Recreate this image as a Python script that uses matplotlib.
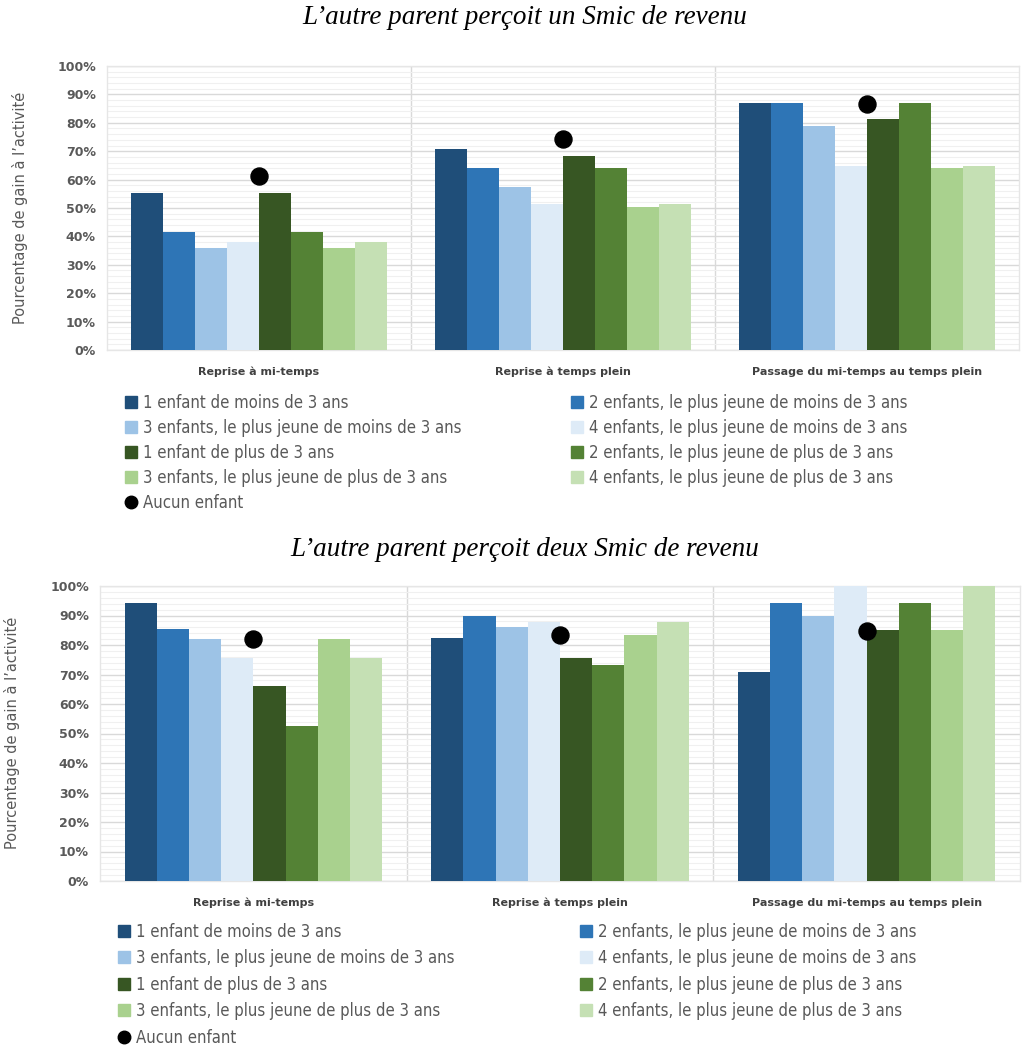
import matplotlib
matplotlib.use("Agg")
import matplotlib.pyplot as plt
from matplotlib import font_manager
from matplotlib.lines import Line2D
from matplotlib.ticker import MultipleLocator, FuncFormatter
import numpy as np

categories = ["Reprise à mi-temps", "Reprise à temps plein", "Passage du mi-temps au temps plein"]
series_labels = [
    "1 enfant de moins de 3 ans",
    "2 enfants, le plus jeune de moins de 3 ans",
    "3 enfants, le plus jeune de moins de 3 ans",
    "4 enfants, le plus jeune de moins de 3 ans",
    "1 enfant de plus de 3 ans",
    "2 enfants, le plus jeune de plus de 3 ans",
    "3 enfants, le plus jeune de plus de 3 ans",
    "4 enfants, le plus jeune de plus de 3 ans",
]
dot_label = "Aucun enfant"
colors = ["#1F4E79", "#2E75B6", "#9DC3E6", "#DEEBF7",
          "#375623", "#548235", "#A9D18E", "#C5E0B4"]

# values in %, one list per series (3 categories each)
un_smic = [
    [55.2, 70.9, 87.1],
    [41.7, 64.1, 87.1],
    [36.0, 57.3, 78.9],
    [37.9, 51.4, 64.7],
    [55.2, 68.4, 81.5],
    [41.7, 64.1, 87.1],
    [36.0, 50.4, 64.2],
    [37.9, 51.3, 64.7],
]
un_smic_aucun = [61.4, 74.2, 86.6]

deux_smic = [
    [94.3, 82.5, 71.0],
    [85.4, 89.7, 94.2],
    [82.1, 86.0, 89.7],
    [75.5, 87.9, 100.0],
    [66.2, 75.5, 85.0],
    [52.6, 73.3, 94.2],
    [82.1, 83.3, 85.0],
    [75.5, 87.9, 100.0],
]
deux_smic_aucun = [82.0, 83.4, 84.7]

titles = ["L\u2019autre parent perçoit un Smic de revenu",
          "L\u2019autre parent perçoit deux Smic de revenu"]
ylabel = "Pourcentage de gain à l\u2019activité"

# a condensed font for the legend, if one is installed
narrow_font = None
for f in font_manager.fontManager.ttflist:
    if ("Narrow" in f.name or "Condensed" in f.name or f.stretch in ("condensed", "semi-condensed")) \
            and f.style == "normal" and f.weight in (400, "normal"):
        narrow_font = font_manager.FontProperties(fname=f.fname)
        break
grey = "#595959"

fig = plt.figure(figsize=(10.22, 10.48), dpi=100)
W, H = 1022, 1048


def box(l, t, r, b):
    return [l / W, 1 - b / H, (r - l) / W, (b - t) / H]


def draw(ax, data, aucun, leg_top, leg_left, leg_right, leg_space, ylab_x, ylab_y):
    x = np.arange(len(categories))
    n = len(data)
    bw = 0.84 / n
    for i, vals in enumerate(data):
        ax.bar(x + (i - (n - 1) / 2) * bw, vals, width=bw, color=colors[i],
               zorder=3, linewidth=0)
    ax.scatter(x, aucun, s=150, color="black", zorder=5)
    ax.set_xlim(-0.5, len(categories) - 0.5)
    ax.set_ylim(0, 100)
    ax.yaxis.set_major_locator(MultipleLocator(10))
    ax.yaxis.set_minor_locator(MultipleLocator(2))
    ax.yaxis.set_major_formatter(FuncFormatter(lambda v, p: f"{v:.0f}%"))
    ax.grid(axis="y", which="major", color="#d9d9d9", linewidth=1, zorder=0)
    ax.grid(axis="y", which="minor", color="#f0f0f0", linewidth=0.8, zorder=0)
    for b in np.arange(0.5, len(categories) - 0.5, 1):
        ax.axvline(b, color="#d9d9d9", linewidth=1, zorder=1)
    ax.set_xticks(x)
    ax.set_xticklabels(categories, fontsize=8, fontweight="bold", color="#404040")
    ax.tick_params(axis="x", length=0, pad=12)
    ax.tick_params(axis="y", which="both", length=0, labelsize=9, labelcolor=grey, pad=8)
    for lab in ax.get_yticklabels():
        lab.set_fontweight("bold")
    for s in ax.spines.values():
        s.set_color("#e6e6e6")
        s.set_linewidth(1)
    ax.set_ylabel(ylabel, fontsize=10.5, color=grey)
    ax.yaxis.set_label_coords(ylab_x / W, 1 - ylab_y / H, transform=fig.transFigure)

    handles = [Line2D([], [], marker="s", linestyle="none", markersize=8,
                      markerfacecolor=c, markeredgecolor=c) for c in colors]
    dot = Line2D([], [], marker="o", linestyle="none", markersize=9,
                 markerfacecolor="black", markeredgecolor="black")
    order = [0, 2, 4, 6]
    h = [handles[i] for i in order] + [dot] + [handles[i] for i in [1, 3, 5, 7]]
    l = [series_labels[i] for i in order] + [dot_label] + [series_labels[i] for i in [1, 3, 5, 7]]
    if narrow_font is not None:
        prop = narrow_font.copy()
        prop.set_size(12)
    else:
        prop = {"family": "Liberation Sans", "size": 11}
    fig.legend(h, l, ncol=2, mode="expand", frameon=False,
               bbox_to_anchor=(leg_left / W, 1 - leg_top / H, (leg_right - leg_left) / W, 0.001),
               loc="upper left", prop=prop,
               labelcolor=grey, handletextpad=0.3, handlelength=0.8,
               labelspacing=leg_space, borderaxespad=0)


ax1 = fig.add_axes(box(107, 66, 1019, 350))
draw(ax1, un_smic, un_smic_aucun, 388, 118, 914, 0.43, 28, 208)
fig.text(525 / W, 1 - 18 / H, titles[0], ha="center", va="center",
         family="Liberation Serif", style="italic", fontsize=19.5)

ax2 = fig.add_axes(box(100, 586, 1020, 881))
draw(ax2, deux_smic, deux_smic_aucun, 917, 111, 923, 0.51, 20, 733)
fig.text(525 / W, 1 - 550 / H, titles[1], ha="center", va="center",
         family="Liberation Serif", style="italic", fontsize=19.5)

fig.savefig("out.png", dpi=100)
